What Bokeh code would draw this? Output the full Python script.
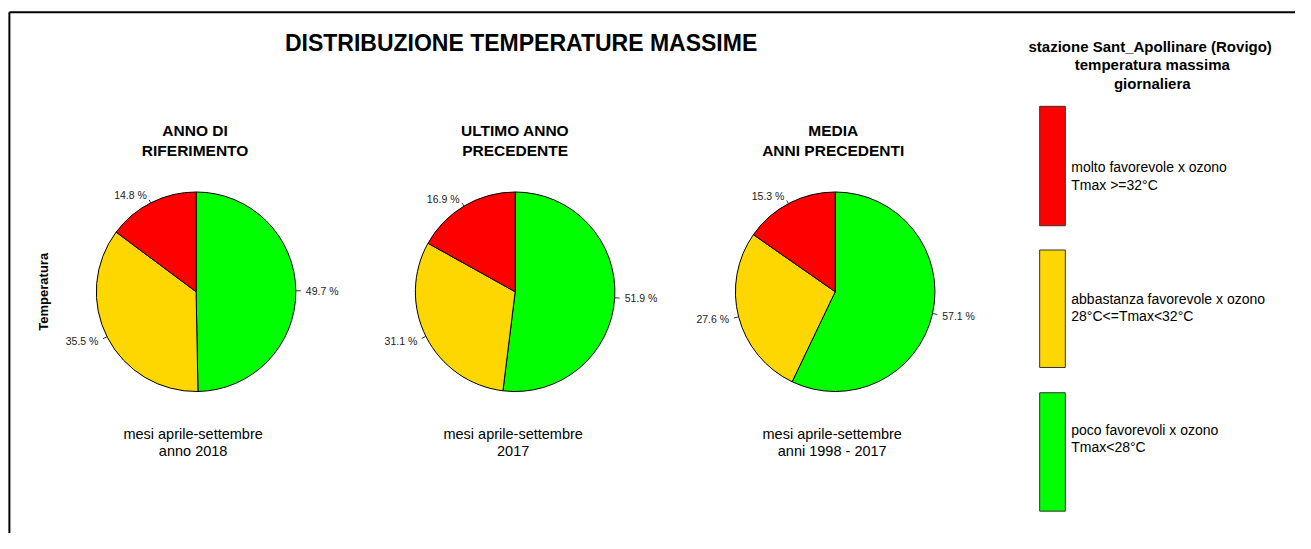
import math
from bokeh.plotting import figure
from bokeh.models import ColumnDataSource, Range1d
from bokeh.embed import file_html
from bokeh.resources import INLINE
from bokeh.core.properties import value

# ---- data ----
# slices in clockwise order starting at 12 o'clock: green, yellow, red
slice_colors = ["#00FF00", "#FFD700", "#FF0000"]
pct_2018 = [49.7, 35.5, 14.8]
pct_2017 = [51.9, 31.1, 16.9]
pct_media = [57.1, 27.6, 15.3]
pies = [pct_2018, pct_2017, pct_media]

main_title = "DISTRIBUZIONE TEMPERATURE MASSIME"
pie_titles = [["ANNO DI", "RIFERIMENTO"], ["ULTIMO ANNO", "PRECEDENTE"], ["MEDIA", "ANNI PRECEDENTI"]]
pie_subs = [["mesi aprile-settembre", "anno 2018"],
            ["mesi aprile-settembre", "2017"],
            ["mesi aprile-settembre", "anni 1998 - 2017"]]
ylab = "Temperatura"
legend_title = ["stazione  Sant_Apollinare (Rovigo)", "temperatura massima", "giornaliera"]
legend_labels = [["molto favorevole x ozono", "Tmax >=32°C"],
                 ["abbastanza favorevole x ozono", "28°C<=Tmax<32°C"],
                 ["poco favorevoli x ozono", "Tmax<28°C"]]
legend_colors = ["#FF0000", "#FFD700", "#00FF00"]

# ---- layout (canvas maps a 1311x549 design space; y is negated) ----
W, H = 1295, 533
DW, DH = 1311, 549
FONT = value("Liberation Sans")
pie_cx = [198, 521, 845]
pie_cy = 300
pie_r = 101
title_cx = [197, 521, 843]
sub_cx = [195, 519, 842]

p = figure(width=W, height=H, x_range=Range1d(0, DW), y_range=Range1d(-DH, 0),
           output_backend="svg", toolbar_location=None, x_axis_type=None, y_axis_type=None,
           min_border=0)
p.grid.visible = False
p.outline_line_color = None
p.background_fill_color = "white"
p.border_fill_color = "white"

# frame border (top and left)
p.segment(x0=[9, 9], y0=[-12, -12], x1=[DW, 9], y1=[-12, -DH], line_color="black", line_width=2)

wx, wy, ws, we, wc = [], [], [], [], []
tx0, ty0, tx1, ty1 = [], [], [], []
lx, ly, ltxt, lalign = [], [], [], []
for i, vals in enumerate(pies):
    total = sum(vals)
    cum = 0.0
    for v, c in zip(vals, slice_colors):
        frac = v / total
        start = 90 - 360 * (cum + frac)
        end = 90 - 360 * cum
        wx.append(pie_cx[i]); wy.append(-pie_cy)
        ws.append(math.radians(start)); we.append(math.radians(end)); wc.append(c)
        mid = math.radians(90 - 360 * (cum + frac / 2))
        cs, sn = math.cos(mid), math.sin(mid)
        tx0.append(pie_cx[i] + pie_r * cs); ty0.append(-pie_cy + pie_r * sn)
        tx1.append(pie_cx[i] + 1.05 * pie_r * cs); ty1.append(-pie_cy + 1.05 * pie_r * sn)
        lx.append(pie_cx[i] + 1.1 * pie_r * cs); ly.append(-pie_cy + 1.1 * pie_r * sn)
        ltxt.append(f"{v} %")
        lalign.append("left" if cs >= 0 else "right")
        cum += frac

p.wedge(x="x", y="y", radius=pie_r, start_angle="s", end_angle="e", fill_color="c",
        line_color="black", line_width=1,
        source=ColumnDataSource(dict(x=wx, y=wy, s=ws, e=we, c=wc)))
p.segment(x0=tx0, y0=ty0, x1=tx1, y1=ty1, line_color="#333333", line_width=1)
p.text(x="x", y="y", text="t", text_align="a", source=ColumnDataSource(dict(x=lx, y=ly, t=ltxt, a=lalign)),
       text_baseline="middle", text_font=FONT, text_font_size="10.5px", text_color="#222222")

# main title
p.text(x=[527], y=[-44], text=[main_title], text_align="center", text_baseline="middle",
       text_font=FONT, text_font_size="23px", text_font_style="bold", text_color="black")

# pie titles and subtitles
for i in range(3):
    p.text(x=[title_cx[i]] * 2, y=[-134, -154], text=pie_titles[i], text_align="center",
           text_baseline="middle", text_font=FONT, text_font_size="15.5px",
           text_font_style="bold", text_color="black")
    p.text(x=[sub_cx[i]] * 2, y=[-447, -464], text=pie_subs[i], text_align="center",
           text_baseline="middle", text_font=FONT, text_font_size="14.5px", text_color="black")

# y label
p.text(x=[44], y=[-300], text=[ylab], angle=math.pi / 2, text_align="center", text_baseline="middle",
       text_font=FONT, text_font_size="13px", text_font_style="bold", text_color="black")

# legend
p.text(x=[1166] * 3, y=[-47, -66, -85], text=legend_title, text_align="center", text_baseline="middle",
       text_font=FONT, text_font_size="15px", text_font_style="bold", text_color="black")
leg_top = [109, 257, 404]
leg_bot = [232, 378, 526]
p.quad(left=[1052] * 3, right=[1078] * 3, top=[-t for t in leg_top], bottom=[-b for b in leg_bot],
       fill_color=legend_colors, line_color="#333333", line_width=1)
leg_text_y = [[172, 190], [307, 325], [442, 460]]
for i in range(3):
    p.text(x=[1084] * 2, y=[-leg_text_y[i][0], -leg_text_y[i][1]], text=legend_labels[i],
           text_align="left", text_baseline="middle", text_font=FONT, text_font_size="14px",
           text_color="black")

open("out.html", "w").write(file_html(p, INLINE))
